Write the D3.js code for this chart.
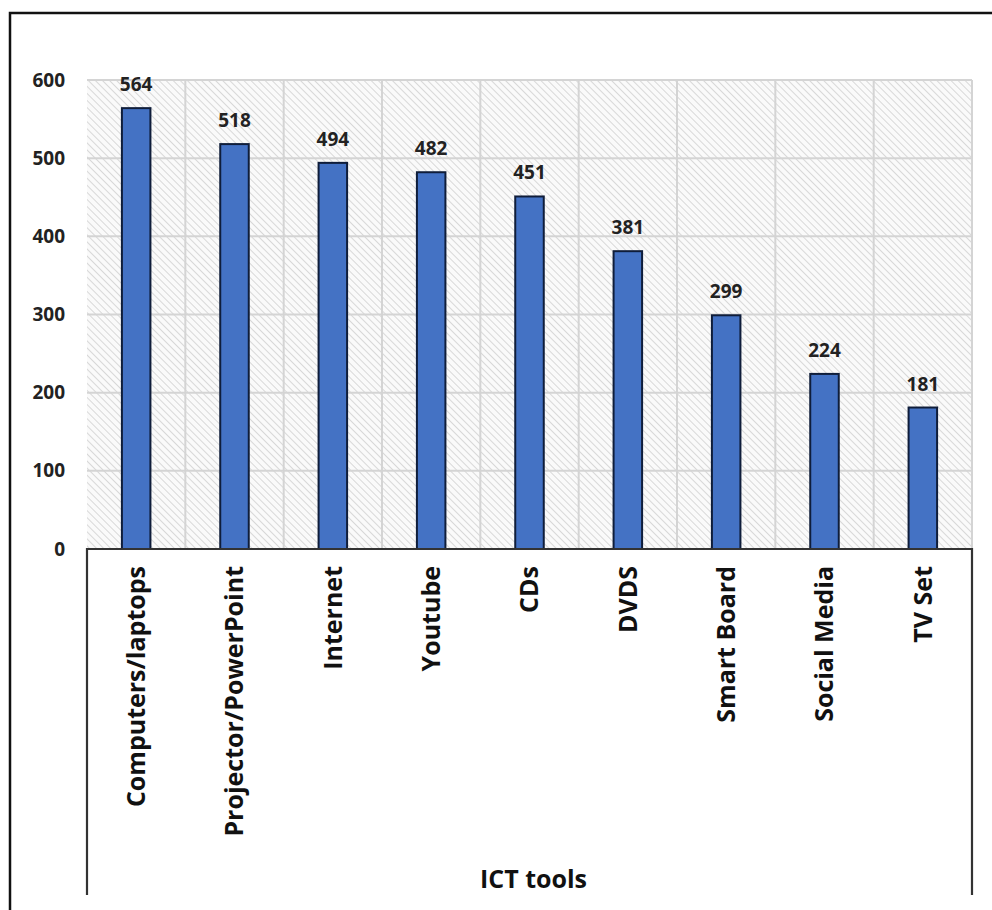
<!DOCTYPE html>
<html>
<head>
<meta charset="utf-8">
<script src="https://cdn.jsdelivr.net/npm/d3@7"></script>
<style>
  html, body { margin: 0; padding: 0; background: #fff; }
  svg { display: block; }
  text { font-family: "Open Sans", "Lato", "Liberation Sans", sans-serif; }
</style>
</head>
<body>
<svg id="chart" width="992" height="910"></svg>
<script>
// ICT tools used, counts per tool
const categories = ["Computers/laptops", "Projector/PowerPoint", "Internet", "Youtube", "CDs", "DVDS", "Smart Board", "Social Media", "TV Set"];
const values = [564, 518, 494, 482, 451, 381, 299, 224, 181];
const yTicks = [0, 100, 200, 300, 400, 500, 600];
const xTitle = "ICT tools";

const svg = d3.select("#chart");
const plot = { left: 87, right: 972, top: 80, bottom: 549 };

// Outer frame (top and left edges visible)
svg.append("path")
  .attr("d", "M10,912 V13 H994")
  .attr("fill", "none")
  .attr("stroke", "#111")
  .attr("stroke-width", 2.5);

// Diagonal hatch used for the plot background
const defs = svg.append("defs");
const pat = defs.append("pattern")
  .attr("id", "hatch")
  .attr("patternUnits", "userSpaceOnUse")
  .attr("width", 5)
  .attr("height", 5)
  .attr("patternTransform", "rotate(-45)");
pat.append("rect").attr("width", 5).attr("height", 5).attr("fill", "#fafafa");
pat.append("line")
  .attr("x1", 0).attr("y1", 0).attr("x2", 0).attr("y2", 5)
  .attr("stroke", "#d4d4d4").attr("stroke-width", 1.8);

const x = d3.scaleBand()
  .domain(categories)
  .range([plot.left, plot.right])
  .paddingInner(0.71)
  .paddingOuter(0.355);

const xBands = d3.scaleBand()
  .domain(categories)
  .range([plot.left, plot.right])
  .padding(0);

const y = d3.scaleLinear()
  .domain([0, 600])
  .range([plot.bottom, plot.top]);

// Plot background
svg.append("rect")
  .attr("x", plot.left).attr("y", plot.top)
  .attr("width", plot.right - plot.left)
  .attr("height", plot.bottom - plot.top)
  .attr("fill", "url(#hatch)");

// Horizontal gridlines
svg.append("g")
  .selectAll("line")
  .data(yTicks.filter(d => d > 0))
  .join("line")
  .attr("x1", plot.left).attr("x2", plot.right)
  .attr("y1", d => y(d)).attr("y2", d => y(d))
  .attr("stroke", "#d4d4d4").attr("stroke-width", 2);

// Vertical gridlines at category boundaries
const bounds = categories.map(c => xBands(c)).concat([plot.right]);
svg.append("g")
  .selectAll("line")
  .data(bounds.slice(1))
  .join("line")
  .attr("x1", d => d).attr("x2", d => d)
  .attr("y1", plot.top).attr("y2", plot.bottom)
  .attr("stroke", "#d4d4d4").attr("stroke-width", 2);

// Y axis tick labels
const yAxis = d3.axisLeft(y).tickValues(yTicks).tickSize(0).tickPadding(22);
const gy = svg.append("g")
  .attr("transform", `translate(${plot.left},0)`)
  .call(yAxis);
gy.select(".domain").remove();
gy.selectAll("text")
  .attr("font-size", 19)
  .attr("font-weight", 700)
  .attr("fill", "#222")
  .style("font-family", "'Open Sans', 'Lato', sans-serif");

// Bars
svg.append("g")
  .selectAll("rect")
  .data(values)
  .join("rect")
  .attr("x", (d, i) => x(categories[i]))
  .attr("y", d => y(d))
  .attr("width", x.bandwidth())
  .attr("height", d => y(0) - y(d))
  .attr("fill", "#4472C4")
  .attr("stroke", "#0f1d3a")
  .attr("stroke-width", 2);

// Value labels
svg.append("g")
  .selectAll("text")
  .data(values)
  .join("text")
  .attr("x", (d, i) => x(categories[i]) + x.bandwidth() / 2)
  .attr("y", d => y(d) - 17)
  .attr("text-anchor", "middle")
  .attr("font-size", 19)
  .attr("font-weight", 700)
  .attr("fill", "#222")
  .text(d => d);

// Category box under the plot
svg.append("path")
  .attr("d", `M${plot.left},895 V${plot.bottom} H${plot.right} V895`)
  .attr("fill", "none")
  .attr("stroke", "#333")
  .attr("stroke-width", 2.2);

// Rotated category labels
svg.append("g")
  .selectAll("text")
  .data(categories)
  .join("text")
  .attr("transform", d => `translate(${xBands(d) + xBands.bandwidth() / 2},566) rotate(-90)`)
  .attr("dy", "0.35em")
  .attr("text-anchor", "end")
  .attr("font-size", 25)
  .attr("font-weight", 700)
  .attr("fill", "#111")
  .text(d => d);

// Axis title
svg.append("text")
  .attr("x", (plot.left + plot.right) / 2 + 4)
  .attr("y", 888)
  .attr("text-anchor", "middle")
  .attr("font-size", 25)
  .attr("font-weight", 700)
  .attr("fill", "#111")
  .text(xTitle);
</script>
</body>
</html>
